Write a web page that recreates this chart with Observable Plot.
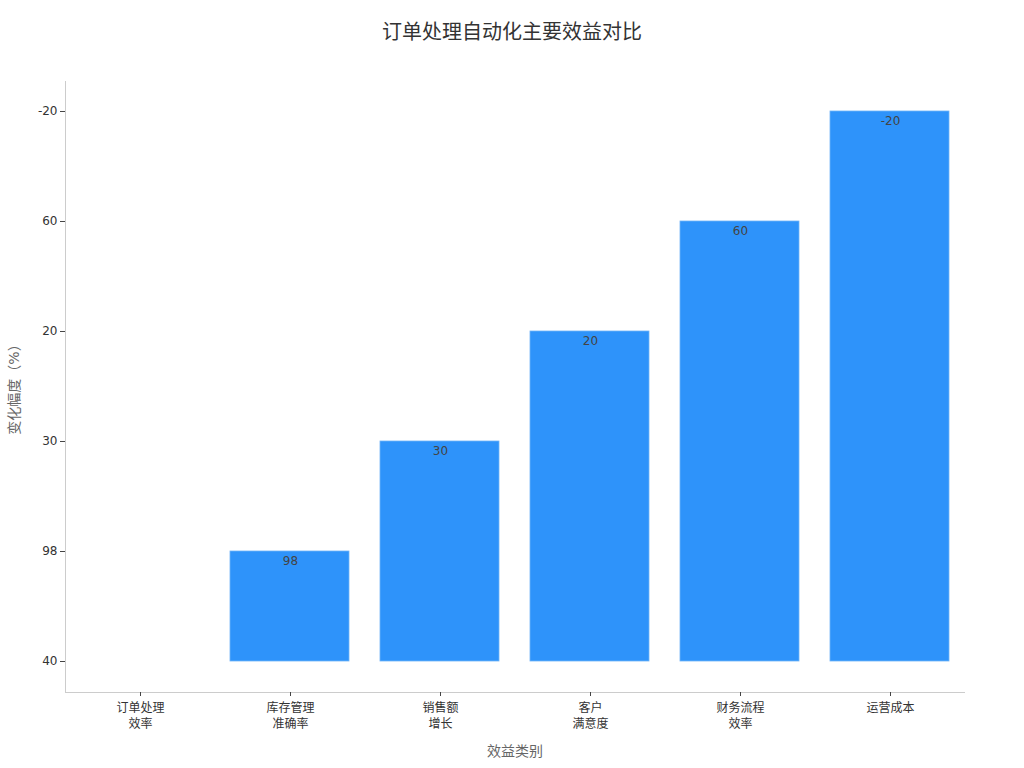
<!DOCTYPE html>
<html>
<head>
<meta charset="utf-8">
<script src="https://cdn.jsdelivr.net/npm/d3@7"></script>
<script src="https://cdn.jsdelivr.net/npm/@observablehq/plot@0.6"></script>
<style>
  body { margin: 0; background: #fff; font-family: "DejaVu Sans", "Noto Sans CJK SC", sans-serif; }
  #wrap { position: relative; width: 1024px; height: 768px; }
  #title { height: 65px; line-height: 64px; text-align: center; font-size: 20px; color: #333; }
  #chart svg { display: block; }
  #xlabel { position: absolute; left: 65px; width: 900px; top: 740px; text-align: center; font-size: 14px; color: #666; }
  #ylabel { position: absolute; left: 13px; top: 386px; transform: translate(-50%, -50%) rotate(-90deg); white-space: nowrap; font-size: 14px; color: #666; }
</style>
</head>
<body>
<div id="wrap">
<div id="title">订单处理自动化主要效益对比</div>
<div id="chart"></div>
<div id="xlabel">效益类别</div>
<div id="ylabel">变化幅度（%）</div>
</div>
<script>
const categories = ["订单处理\n效率", "库存管理\n准确率", "销售额\n增长", "客户\n满意度", "财务流程\n效率", "运营成本"];
const values = [40, 98, 30, 20, 60, -20];
// y-axis tick labels, bottom to top (categorical axis in the original)
const yTickLabels = [40, 98, 30, 20, 60, -20];

const baseIndex = yTickLabels.indexOf(40);
const data = categories.map((c, i) => ({
  category: c,
  value: values[i],
  pos: yTickLabels.indexOf(values[i])
}));

const font = '"DejaVu Sans", "Noto Sans CJK SC", sans-serif';

const chart = Plot.plot({
  width: 1024,
  height: 703,
  marginTop: 16,
  marginBottom: 76,
  marginLeft: 65,
  marginRight: 59,
  style: { fontFamily: font, fontSize: "12px", color: "#333", background: "#fff" },
  x: { domain: categories, paddingInner: 0.2, paddingOuter: 0.1, label: null },
  y: { domain: [-0.2818, 5.2727], label: null },
  marks: [
    Plot.barY(data, {
      x: "category", y1: () => baseIndex, y2: "pos",
      fill: "#2E93FA", stroke: "#6FB3F7", strokeWidth: 0.8, insetRight: 1
    }),
    Plot.text(data.filter(d => d.pos !== baseIndex), {
      x: "category", y: "pos", text: d => String(d.value),
      dy: 10, fill: "#444", fontSize: 12
    }),
    Plot.ruleY([-0.2818], { stroke: "#ccc" }),
    Plot.frame({ anchor: "left", stroke: "#ccc" }),
    Plot.axisY({
      ticks: d3.range(yTickLabels.length),
      tickFormat: i => String(yTickLabels[i]),
      tickSize: 5, tickPadding: 3, stroke: "#444",
      label: null, fontSize: 12
    }),
    Plot.axisX({
      tickSize: 4, tickPadding: 4, stroke: "#444",
      label: null, fontSize: 12, lineHeight: 1.35
    })
  ]
});
document.getElementById("chart").appendChild(chart);
</script>
</body>
</html>
